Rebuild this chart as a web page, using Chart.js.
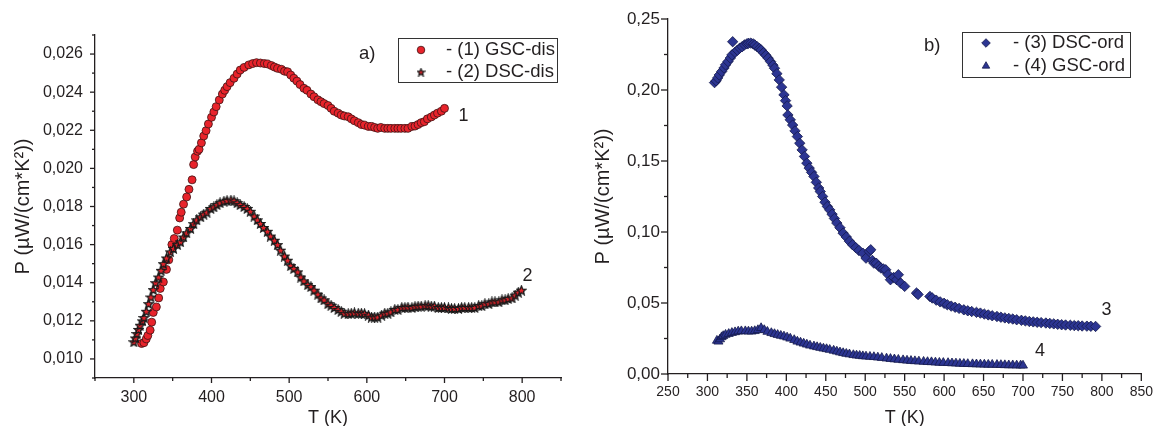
<!DOCTYPE html>
<html>
<head>
<meta charset="utf-8">
<script src="https://cdn.jsdelivr.net/npm/chart.js@4.4.0/dist/chart.umd.min.js"></script>
<style>
html,body{margin:0;padding:0;background:#fff;}
#wrap{position:relative;width:1163px;height:426px;}
.box{position:absolute;top:0;height:426px;}
#boxA{left:0;width:580px;}
#boxB{left:580px;width:583px;}
</style>
</head>
<body>
<div id="wrap">
  <div class="box" id="boxA"><canvas id="chartA" width="580" height="426"></canvas></div>
  <div class="box" id="boxB"><canvas id="chartB" width="583" height="426"></canvas></div>
</div>
<script>
// (1) GSC-dis, circles
const T_gscDis = [310,313,316,318,321,323,325,329,332,334,338,342,345,349,352,356,359,361,364,368,371,375,377,379,382,384,387,390,393,396,400,403,406,410,414,417,420,424,429,433,437,442,448,453,458,463,468,472,477,481,485,490,494,498,502,506,510,514,519,523,528,532,537,541,545,550,554,558,563,567,571,576,580,584,589,593,597,602,606,610,614,618,623,627,631,636,640,644,649,653,658,662,666,670,674,678,683,687,691,696,700];
const P_gscDis = [0.01081,0.01085,0.01105,0.01123,0.01151,0.01193,0.01244,0.01273,0.0132,0.0137,0.01404,0.0147,0.0152,0.0160,0.01632,0.01676,0.0174,0.0177,0.01812,0.0185,0.0189,0.0194,0.0202,0.0206,0.0209,0.0210,0.02134,0.0217,0.02198,0.02233,0.02268,0.02296,0.02324,0.02359,0.0239,0.0241,0.02429,0.0245,0.02473,0.02495,0.02516,0.0253,0.02543,0.0255,0.02555,0.02553,0.0255,0.02548,0.0254,0.02532,0.02525,0.0252,0.0251,0.02507,0.0249,0.02473,0.02458,0.0244,0.0242,0.0241,0.0239,0.02376,0.0236,0.0235,0.0234,0.0233,0.02315,0.0230,0.0229,0.0228,0.02275,0.02271,0.0226,0.0225,0.0224,0.0223,0.02227,0.0222,0.0222,0.02215,0.0221,0.02215,0.0221,0.0221,0.0221,0.0221,0.0221,0.0221,0.0221,0.0221,0.0222,0.02222,0.0223,0.0224,0.02245,0.0226,0.0227,0.0228,0.0229,0.0230,0.02315];

// (2) DSC-dis, stars
const T_dscDis = [300,302,304,306,308,311,313,316,319,322,325,328,332,335,338,342,347,351,356,360,364,368,373,377,381,386,390,394,399,403,407,411,416,420,425,429,433,437,442,446,450,455,459,463,467,472,476,481,485,489,494,498,502,506,511,515,519,524,528,532,537,541,545,550,554,558,563,567,571,576,580,584,589,593,597,602,606,610,614,619,623,627,631,636,640,645,649,653,658,662,666,670,675,679,683,687,692,696,700,705,709,713,718,722,726,731,735,739,744,748,752,757,761,765,770,774,778,782,787,791,795,799];
const P_dscDis = [0.0109,0.0111,0.01133,0.01155,0.01177,0.0120,0.01217,0.0125,0.0129,0.01325,0.01364,0.0140,0.0143,0.01465,0.0150,0.0153,0.01562,0.0158,0.0160,0.01615,0.0164,0.01662,0.01685,0.0171,0.0173,0.01746,0.0176,0.0177,0.0179,0.01798,0.0181,0.0182,0.01828,0.01832,0.01834,0.0183,0.0182,0.0181,0.0180,0.0179,0.01775,0.0175,0.0173,0.01711,0.0169,0.0167,0.01645,0.01623,0.0160,0.01571,0.0154,0.01518,0.0149,0.01475,0.01457,0.0143,0.0141,0.0139,0.0138,0.01361,0.0134,0.0132,0.0131,0.0129,0.01282,0.0127,0.0126,0.0125,0.0124,0.01238,0.0124,0.01242,0.0124,0.0124,0.01238,0.0123,0.0122,0.0122,0.0122,0.0123,0.0124,0.0124,0.01247,0.0126,0.0126,0.0127,0.0127,0.01272,0.0127,0.01275,0.01277,0.01277,0.0128,0.0128,0.01277,0.01277,0.0127,0.0127,0.0127,0.01268,0.01265,0.01265,0.01265,0.0127,0.0127,0.0127,0.0127,0.0127,0.0128,0.0128,0.0129,0.0129,0.01299,0.0130,0.0130,0.0131,0.0131,0.01317,0.0132,0.01335,0.0135,0.01361];

// (3) DSC-ord, diamonds
const T_dscOrd = [309,311,313,315,318,321,323,326,329,331,332,335,338,341,344,347,350,352,355,358,360,363,366,368,371,374,377,380,383,385,388,391,394,397,399,401,402,405,408,411,414,417,420,423,426,429,432,435,438,441,443,446,449,452,455,458,461,464,468,472,476,480,484,488,492,497,501,505,507,509,511,514,517,520,523,526,529,532,536,540,542,545,550,565,567,582,585,590,595,600,604,609,614,619,625,630,635,641,646,651,656,661,667,672,677,682,687,692,698,703,708,713,718,723,729,734,739,744,749,754,760,765,770,775,781,786,792];
const P_dscOrd = [0.2052,0.2065,0.2085,0.2106,0.2130,0.2155,0.2177,0.2200,0.2225,0.2247,0.2340,0.2265,0.2280,0.2295,0.2305,0.2318,0.2325,0.2329,0.2330,0.2325,0.2317,0.2305,0.2292,0.2282,0.2262,0.2245,0.2224,0.2200,0.2175,0.2153,0.2115,0.2071,0.2020,0.1966,0.1925,0.1888,0.1824,0.1790,0.1753,0.1712,0.1672,0.1625,0.1578,0.1532,0.1485,0.1450,0.1420,0.1391,0.1350,0.1310,0.1285,0.1250,0.1210,0.1180,0.1156,0.1125,0.1095,0.1063,0.1030,0.0992,0.0965,0.0935,0.0910,0.0890,0.0870,0.0851,0.0816,0.0863,0.0875,0.0800,0.0781,0.0780,0.0760,0.0746,0.0740,0.0734,0.0700,0.0664,0.0680,0.0664,0.0699,0.0640,0.0617,0.0570,0.0560,0.0546,0.0535,0.0520,0.0508,0.0498,0.0488,0.0478,0.0470,0.0462,0.0452,0.0445,0.0440,0.0434,0.0429,0.0422,0.0416,0.0410,0.0405,0.0400,0.0395,0.0391,0.0387,0.0382,0.0378,0.0374,0.0370,0.0367,0.0364,0.0362,0.0359,0.0356,0.0353,0.0350,0.0347,0.0345,0.0343,0.0341,0.0340,0.0338,0.0337,0.0336,0.0335];

// (4) GSC-ord, triangles
const T_gscOrd = [312,314,316,318,320,323,327,331,335,339,343,348,352,356,360,364,368,372,376,381,385,389,393,397,401,405,410,414,418,422,426,430,435,439,443,447,451,455,460,464,468,472,476,480,485,489,493,497,501,506,511,516,521,527,532,537,542,548,553,558,563,568,574,579,584,589,594,599,605,610,615,620,625,630,636,641,646,651,656,661,667,672,677,682,687,692,697,700];
const P_gscOrd = [0.0235,0.0229,0.0245,0.0260,0.0268,0.0277,0.0283,0.0290,0.0295,0.0300,0.0302,0.0302,0.0300,0.0300,0.0303,0.0310,0.0324,0.0310,0.0298,0.0289,0.0282,0.0276,0.0270,0.0265,0.0258,0.0250,0.0240,0.0229,0.0222,0.0215,0.0208,0.0201,0.0195,0.0190,0.0185,0.0180,0.0176,0.0171,0.0165,0.0159,0.0153,0.0148,0.0143,0.0139,0.0134,0.0131,0.0129,0.0126,0.0124,0.0122,0.0120,0.0117,0.0114,0.0110,0.0107,0.0104,0.0101,0.0098,0.0095,0.0093,0.0091,0.0089,0.0087,0.0085,0.0084,0.0082,0.0080,0.0079,0.0078,0.0076,0.0075,0.0073,0.0072,0.0071,0.0070,0.0069,0.0068,0.0067,0.0066,0.0066,0.0065,0.0064,0.0063,0.0062,0.0062,0.0061,0.0061,0.0060];

// tick labels
const xLabelsA = [300,400,500,600,700,800];
const yLabelsA = [0.010,0.012,0.014,0.016,0.018,0.020,0.022,0.024,0.026];
const xLabelsB = [250,300,350,400,450,500,550,600,650,700,750,800,850];
const yLabelsB = [0.00,0.05,0.10,0.15,0.20,0.25];

const FONT = '"Liberation Sans", Arial, Helvetica, sans-serif';
const INK = '#231f20';
const RED = '#e8232b', RED_EDGE = '#3d1414';
const BLUE = '#2c3592', BLUE_EDGE = '#151a4d';

function pts(xs, ys){ return xs.map((x,i)=>({x:x, y:ys[i]})); }
function hasVal(list, v){ return list.some(a=>Math.abs(a-v)<1e-9); }

// filled five-point star marker
function starImage(size){
  const c = document.createElement('canvas');
  c.width = c.height = size;
  const g = c.getContext('2d');
  const cx = size/2, cy = size/2 + 0.5, r = size/2 - 0.8, ri = r*0.45;
  g.beginPath();
  for(let i=0;i<10;i++){
    const a = -Math.PI/2 + i*Math.PI/5;
    const rr = i%2 ? ri : r;
    g.lineTo(cx + rr*Math.cos(a), cy + rr*Math.sin(a));
  }
  g.closePath();
  g.fillStyle = RED; g.fill();
  g.lineWidth = 1.3; g.strokeStyle = '#1a1a1a'; g.stroke();
  return c;
}
const starBig = starImage(11);
const starSmall = starImage(9);

// tick marks: long on labelled ticks, short on the others
const tickMarks = {
  id:'tickMarks',
  afterDraw(chart, args, o){
    const ctx = chart.ctx, a = chart.chartArea;
    ctx.save();
    ctx.strokeStyle = INK; ctx.lineWidth = 1.3;
    const xs = chart.scales.x, ys = chart.scales.y;
    xs.ticks.forEach(t=>{
      const p = xs.getPixelForValue(t.value);
      const len = t.label ? o.major : o.minor;
      ctx.beginPath(); ctx.moveTo(p, a.bottom); ctx.lineTo(p, a.bottom + len); ctx.stroke();
    });
    ys.ticks.forEach(t=>{
      const p = ys.getPixelForValue(t.value);
      const len = t.label ? o.major : o.minor;
      ctx.beginPath(); ctx.moveTo(a.left, p); ctx.lineTo(a.left - len, p); ctx.stroke();
    });
    ctx.restore();
  }
};

// framed legend, panel letter and curve numbers
const notes = {
  id:'notes',
  afterDraw(chart, args, o){
    const ctx = chart.ctx;
    ctx.save();
    const b = o.box;
    ctx.strokeStyle = '#333'; ctx.lineWidth = 1;
    ctx.strokeRect(b.x + 0.5, b.y + 0.5, b.w, b.h);
    ctx.font = '18.5px ' + FONT;
    ctx.textBaseline = 'middle';
    ctx.textAlign = 'left';
    o.items.forEach(it=>{
      const y = b.y + it.dy;
      const st = it.style;
      ctx.fillStyle = st.backgroundColor || RED;
      ctx.strokeStyle = st.borderColor || INK;
      ctx.lineWidth = st.borderWidth || 1;
      Chart.helpers.drawPoint(ctx, st, b.x + o.markX, y);
      ctx.fillStyle = INK;
      ctx.fillText(it.text, b.x + o.textX, y);
    });
    ctx.fillStyle = INK;
    ctx.fillText(o.panel.text, o.panel.x, o.panel.y);
    ctx.font = '18px ' + FONT;
    ctx.textAlign = 'center';
    o.curves.forEach(c=>{
      const ds = chart.data.datasets[c.ds].data;
      const last = ds[ds.length - 1];
      const px = chart.scales.x.getPixelForValue(last.x);
      const py = chart.scales.y.getPixelForValue(last.y);
      ctx.fillText(c.text, px + c.dx, py + c.dy);
    });
    ctx.restore();
  }
};

function axisTitle(text, size, pad){
  return {display:true, text:text, color:INK, font:{family:FONT, size:size}, padding:pad};
}

// a) disordered
new Chart(document.getElementById('chartA'), {
  type:'scatter',
  data:{datasets:[
    {label:'- (1) GSC-dis', data:pts(T_gscDis, P_gscDis), order:1, clip:false,
     pointStyle:'circle', pointRadius:4, backgroundColor:RED, borderColor:RED_EDGE, borderWidth:0.8},
    {label:'- (2) DSC-dis', data:pts(T_dscDis, P_dscDis), order:0, clip:false,
     pointStyle:starBig, pointRadius:5, backgroundColor:RED, borderColor:RED_EDGE}
  ]},
  options:{
    responsive:false, animation:false,
    layout:{padding:{left:0, top:35, right:19, bottom:0}},
    plugins:{
      legend:{display:false}, tooltip:{enabled:false},
      tickMarks:{major:5, minor:3},
      notes:{
        box:{x:398, y:38, w:159, h:44},
        markX:23, textX:48,
        items:[
          {text:'- (1) GSC-dis', dy:12, style:{pointStyle:'circle', radius:3.8, borderWidth:0.8, backgroundColor:RED, borderColor:RED_EDGE}},
          {text:'- (2) DSC-dis', dy:34, style:{pointStyle:starSmall, radius:4}}
        ],
        panel:{text:'a)', x:359, y:54},
        curves:[{ds:0, text:'1', dx:19, dy:8}, {ds:1, text:'2', dx:6, dy:-14}]
      }
    },
    scales:{
      x:{
        type:'linear', min:250, max:850,
        afterFit(s){ s.height = 48; },
        border:{display:true, color:INK, width:1.3},
        grid:{display:true, drawOnChartArea:false, drawTicks:false},
        ticks:{stepSize:50, autoSkip:false, maxRotation:0, padding:10, color:INK, font:{family:FONT, size:16},
               callback:v=>hasVal(xLabelsA, v) ? String(v) : ''},
        title:axisTitle('T (K)', 18, {top:0, bottom:-3})
      },
      y:{
        type:'linear', min:0.009, max:0.027,
        afterFit(s){ s.width = 95; },
        border:{display:true, color:INK, width:1.3},
        grid:{display:true, drawOnChartArea:false, drawTicks:false},
        ticks:{stepSize:0.001, autoSkip:false, padding:12, color:INK, font:{family:FONT, size:16},
               callback:v=>hasVal(yLabelsA, v) ? v.toFixed(3).replace('.', ',') : ''},
        title:axisTitle('P (\u00b5W/(cm*K\u00b2))', 20, {top:11, bottom:0})
      }
    }
  },
  plugins:[tickMarks, notes]
});

// b) ordered
new Chart(document.getElementById('chartB'), {
  type:'scatter',
  data:{datasets:[
    {label:'- (3) DSC-ord', data:pts(T_dscOrd, P_dscOrd), clip:false,
     pointStyle:'rectRot', pointRadius:5.2, backgroundColor:BLUE, borderColor:BLUE_EDGE, borderWidth:0.8},
    {label:'- (4) GSC-ord', data:pts(T_gscOrd, P_gscOrd), clip:false,
     pointStyle:'triangle', pointRadius:5.2, backgroundColor:BLUE, borderColor:BLUE_EDGE, borderWidth:0.8}
  ]},
  options:{
    responsive:false, animation:false,
    layout:{padding:{left:0, top:19, right:12, bottom:0}},
    plugins:{
      legend:{display:false}, tooltip:{enabled:false},
      tickMarks:{major:7, minor:4},
      notes:{
        box:{x:382, y:32, w:168, h:45},
        markX:24, textX:51,
        items:[
          {text:'- (3) DSC-ord', dy:11, style:{pointStyle:'rectRot', radius:4.3, borderWidth:0.8, backgroundColor:BLUE, borderColor:BLUE_EDGE}},
          {text:'- (4) GSC-ord', dy:34, style:{pointStyle:'triangle', radius:4.3, borderWidth:0.8, backgroundColor:BLUE, borderColor:BLUE_EDGE}}
        ],
        panel:{text:'b)', x:344, y:46},
        curves:[{ds:0, text:'3', dx:11, dy:-16}, {ds:1, text:'4', dx:17, dy:-14}]
      }
    },
    scales:{
      x:{
        type:'linear', min:250, max:850,
        afterFit(s){ s.height = 52; },
        border:{display:true, color:INK, width:1.3},
        grid:{display:true, drawOnChartArea:false, drawTicks:false},
        ticks:{stepSize:25, autoSkip:false, maxRotation:0, padding:10, color:INK, font:{family:FONT, size:14},
               callback:v=>hasVal(xLabelsB, v) ? String(v) : ''},
        title:axisTitle('T (K)', 18, {top:0, bottom:-3})
      },
      y:{
        type:'linear', min:0, max:0.25,
        afterFit(s){ s.width = 88; },
        border:{display:true, color:INK, width:1.3},
        grid:{display:true, drawOnChartArea:false, drawTicks:false},
        ticks:{stepSize:0.025, autoSkip:false, padding:8, color:INK, font:{family:FONT, size:17},
               callback:v=>hasVal(yLabelsB, v) ? v.toFixed(2).replace('.', ',') : ''},
        title:axisTitle('P (\u00b5W/(cm*K\u00b2))', 20, {top:11, bottom:0})
      }
    }
  },
  plugins:[tickMarks, notes]
});
</script>
</body>
</html>
